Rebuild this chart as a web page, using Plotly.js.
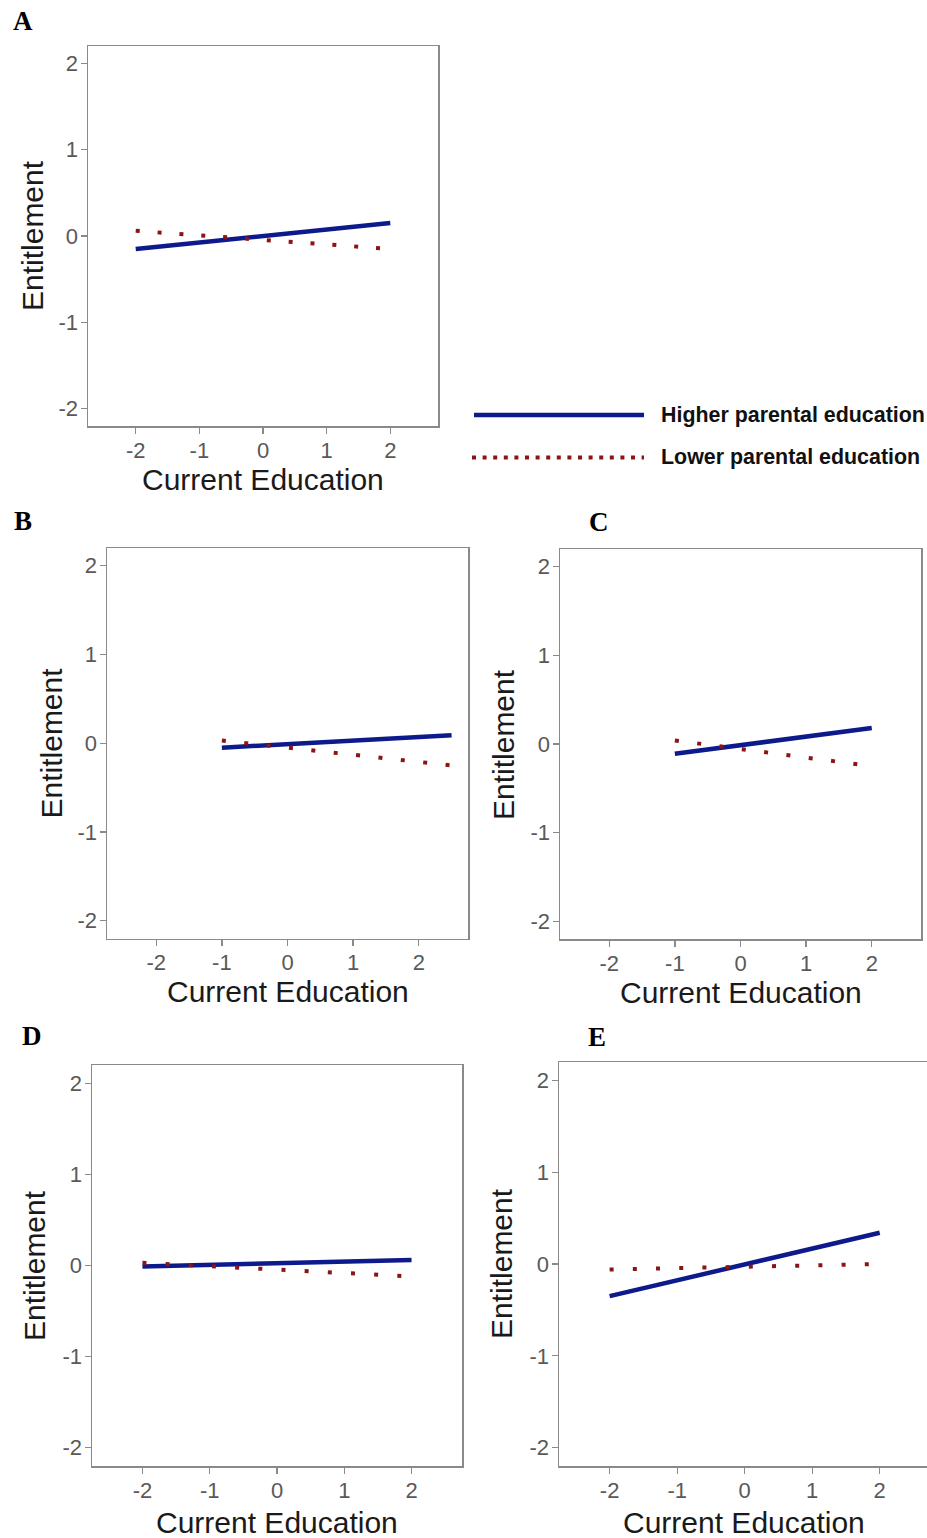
<!DOCTYPE html>
<html><head><meta charset="utf-8">
<script src="https://cdn.plot.ly/plotly-3.0.1.min.js"></script>
<style>html,body{margin:0;padding:0;background:#fff}</style>
</head><body><div id="chart" style="width:927px;height:1538px"></div>
<script>
// ---- data ----
const panelLabels = ['A', 'B', 'C', 'D', 'E'];
const tickValues = [-2, -1, 0, 1, 2];
const tickLabels = ['-2', '-1', '0', '1', '2'];
const seriesNames = ['Higher parental education', 'Lower parental education'];
const xStart = [-2, -1, -1, -2, -2];
const xEnd = [2, 2.5, 2, 2, 2];
const higherStart = [-0.15, -0.05, -0.11, -0.01, -0.35];
const higherEnd = [0.15, 0.09, 0.18, 0.06, 0.34];
const lowerStart = [0.06, 0.03, 0.04, 0.03, -0.06];
const lowerEnd = [-0.15, -0.25, -0.25, -0.12, 0.00];
const xTitle = 'Current Education';
const yTitle = 'Entitlement';

// ---- geometry / style ----
const W = 927, H = 1538;
const px = p => p / W, py = p => 1 - p / H;
// [left, right, top, bottom] in pixels
const boxes = [[88, 438, 46, 426], [107, 468, 548, 938.5], [560, 921, 549, 939], [92, 462, 1065, 1466], [559, 927, 1062, 1466]];
const xRanges = [[-2.75, 2.75], [-2.75, 2.75], [-2.75, 2.75], [-2.75, 2.75], [-2.75, 2.70]];
const xTitlePos = [[263, 479], [287.5, 991.5], [740.5, 992], [277, 1522.5], [744, 1522]];
const yTitlePos = [[32, 236], [51, 743.5], [503, 744], [34.5, 1265.5], [501, 1264]];
const letterPos = [[11, 21.3], [11.5, 521], [587, 521.7], [19.5, 1036], [586, 1036.7]];
const dotDash = ['4px,17.9px', '4px,18.5px', '4px,18.5px', '4px,19.2px', '4px,19.2px'];

const BLUE = '#0d1a8c', RED = '#8b1414', GRAY = '#8a8a8a';
const SANS = 'Liberation Sans, Arial, sans-serif';

const traces = [], annotations = [], shapes = [];
const layout = {
  width: W, height: H, margin: {l: 0, r: 0, t: 0, b: 0},
  paper_bgcolor: '#fff', plot_bgcolor: '#fff', showlegend: false,
  font: {family: SANS}
};

panelLabels.forEach((lab, i) => {
  const n = i === 0 ? '' : String(i + 1);
  const b = boxes[i];
  traces.push({
    x: [xStart[i], xEnd[i]], y: [higherStart[i], higherEnd[i]],
    xaxis: 'x' + n, yaxis: 'y' + n, mode: 'lines', name: seriesNames[0],
    line: {color: BLUE, width: 4.5}, hoverinfo: 'skip'
  });
  traces.push({
    x: [xStart[i], xEnd[i]], y: [lowerStart[i], lowerEnd[i]],
    xaxis: 'x' + n, yaxis: 'y' + n, mode: 'lines', name: seriesNames[1],
    line: {color: RED, width: 4, dash: dotDash[i]}, hoverinfo: 'skip'
  });
  const common = {
    showline: true, linecolor: GRAY, linewidth: 1.5, showgrid: false, zeroline: false,
    ticks: 'outside', ticklen: 6, tickwidth: 1.3, tickcolor: GRAY,
    tickvals: tickValues, ticktext: tickLabels, ticklabelstandoff: -2,
    tickfont: {family: SANS, size: 22, color: '#595959'}, fixedrange: true
  };
  layout['xaxis' + n] = Object.assign({}, common, {
    domain: [px(b[0]), px(b[1])], range: xRanges[i], anchor: 'y' + n, mirror: true
  });
  layout['yaxis' + n] = Object.assign({}, common, {
    domain: [py(b[3]), py(b[2])], range: [-2.2, 2.2], anchor: 'x' + n, mirror: i !== 4
  });
  annotations.push({
    xref: 'paper', yref: 'paper', x: px(xTitlePos[i][0]), y: py(xTitlePos[i][1]),
    xanchor: 'center', yanchor: 'middle', showarrow: false, text: xTitle,
    font: {family: SANS, size: 30, color: '#1a1a1a'}
  });
  annotations.push({
    xref: 'paper', yref: 'paper', x: px(yTitlePos[i][0]), y: py(yTitlePos[i][1]),
    xanchor: 'center', yanchor: 'middle', showarrow: false, text: yTitle, textangle: -90,
    font: {family: SANS, size: 30, color: '#1a1a1a'}
  });
  annotations.push({
    xref: 'paper', yref: 'paper', x: px(letterPos[i][0]), y: py(letterPos[i][1]),
    xanchor: 'left', yanchor: 'middle', showarrow: false, text: '<b>' + lab + '</b>',
    font: {family: 'Liberation Serif, Times New Roman, serif', size: 27, color: '#000'}
  });
});

// legend (drawn as keys + text)
shapes.push({type: 'line', xref: 'paper', yref: 'paper', x0: px(474), x1: px(644), y0: py(415), y1: py(415),
  line: {color: BLUE, width: 4.5}});
shapes.push({type: 'line', xref: 'paper', yref: 'paper', x0: px(472), x1: px(644), y0: py(457.5), y1: py(457.5),
  line: {color: RED, width: 4, dash: '4px,6.6px'}});
annotations.push({xref: 'paper', yref: 'paper', x: px(659), y: py(415), xanchor: 'left', yanchor: 'middle',
  showarrow: false, text: '<b>' + seriesNames[0] + '</b>', font: {family: SANS, size: 21.4, color: '#111'}});
annotations.push({xref: 'paper', yref: 'paper', x: px(659), y: py(456.5), xanchor: 'left', yanchor: 'middle',
  showarrow: false, text: '<b>' + seriesNames[1] + '</b>', font: {family: SANS, size: 21.4, color: '#111'}});

layout.annotations = annotations;
layout.shapes = shapes;
Plotly.newPlot('chart', traces, layout, {displayModeBar: false, staticPlot: true});
</script></body></html>
